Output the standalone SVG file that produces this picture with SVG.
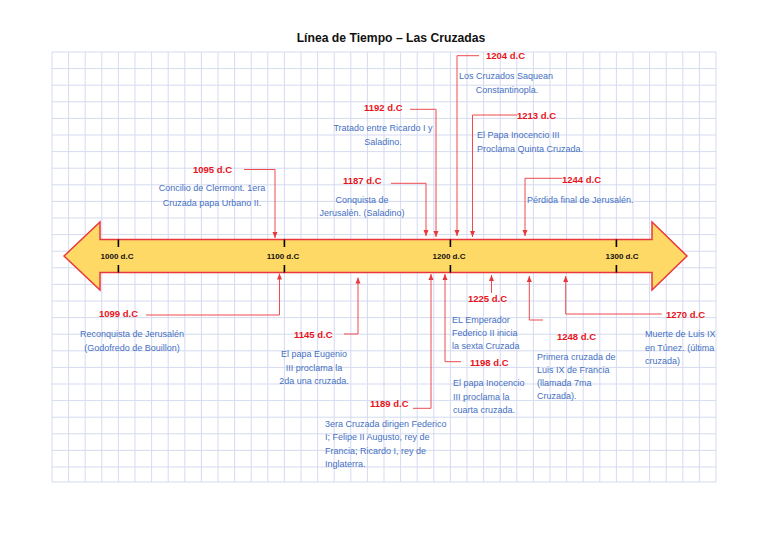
<svg xmlns="http://www.w3.org/2000/svg" width="768" height="544" viewBox="0 0 768 544">
<defs>
<marker id="ah" markerUnits="userSpaceOnUse" markerWidth="6" markerHeight="6" refX="6" refY="3" orient="auto">
<path d="M0,0.5 L6,3 L0,5.5 z" fill="#E8383D"/>
</marker>
<style>
.grid{stroke:#D5DBF0;stroke-width:1;fill:none}
.conn{stroke:#EE4A4F;stroke-width:1;fill:none;marker-end:url(#ah)}
.yr{font-family:"Liberation Sans",Arial,sans-serif;font-weight:bold;font-size:9.5px;fill:#E8141B}
.ax{font-family:"Liberation Sans",Arial,sans-serif;font-weight:bold;font-size:8px;fill:#111;text-anchor:middle}
.tx{font-family:"Liberation Sans",Arial,sans-serif;font-size:9px;fill:#4670C2}
.c{text-anchor:middle}
.tick{stroke:#000;stroke-width:1.6}
</style>
</defs>
<rect width="768" height="544" fill="#fff"/>
<g id="grid">
<path class="grid" d="M52,52V482 M68.6,52V482 M85.2,52V482 M101.8,52V482 M118.4,52V482 M135,52V482 M151.6,52V482 M168.2,52V482 M184.8,52V482 M201.4,52V482 M218,52V482 M234.6,52V482 M251.2,52V482 M267.8,52V482 M284.4,52V482 M301,52V482 M317.6,52V482 M334.2,52V482 M350.8,52V482 M367.4,52V482 M384,52V482 M400.6,52V482 M417.2,52V482 M433.8,52V482 M450.4,52V482 M467,52V482 M483.6,52V482 M500.2,52V482 M516.8,52V482 M533.4,52V482 M550,52V482 M566.6,52V482 M583.2,52V482 M599.8,52V482 M616.4,52V482 M633,52V482 M649.6,52V482 M666.2,52V482 M682.8,52V482 M699.4,52V482 M716,52V482
M52,52H716 M52,68.6H716 M52,85.2H716 M52,101.8H716 M52,118.4H716 M52,135H716 M52,151.6H716 M52,168.2H716 M52,184.8H716 M52,201.4H716 M52,218H716 M52,234.6H716 M52,251.2H716 M52,267.8H716 M52,284.4H716 M52,301H716 M52,317.6H716 M52,334.2H716 M52,350.8H716 M52,367.4H716 M52,384H716 M52,400.6H716 M52,417.2H716 M52,433.8H716 M52,450.4H716 M52,467H716 M52,482H716"/>
</g>
<text x="391" y="42" font-family="Liberation Sans,Arial,sans-serif" font-weight="bold" font-size="12.2" text-anchor="middle" fill="#111">Línea de Tiempo – Las Cruzadas</text>
<g id="timeline">
<polygon points="64,256 100,222 100,239.5 652,239.5 652,222 687,256 652,290 652,272.5 100,272.5 100,290" fill="#FFD966" stroke="#E8383D" stroke-width="1.5" stroke-linejoin="miter"/>
<path class="tick" d="M118.4,239.5V247 M118.4,265V272.5 M284.4,239.5V247 M284.4,265V272.5 M450.4,239.5V247 M450.4,265V272.5 M616.4,239.5V247 M616.4,265V272.5"/>
<text class="ax" x="117" y="258.5">1000 d.C</text>
<text class="ax" x="283" y="258.5">1100 d.C</text>
<text class="ax" x="449" y="258.5">1200 d.C</text>
<text class="ax" x="622" y="258.5">1300 d.C</text>
</g>
<g id="connectors">
<path class="conn" d="M244,169.5H275V238"/>
<path class="conn" d="M146,315H279.5V273.5"/>
<path class="conn" d="M344,334H358V277.5"/>
<path class="conn" d="M391,183.3H426V236"/>
<path class="conn" d="M410,109.3H436V237"/>
<path class="conn" d="M479,55.7H457V236"/>
<path class="conn" d="M517,115H472.5V237"/>
<path class="conn" d="M562,178.3H525V236"/>
<path class="conn" d="M413,408.3H431V274"/>
<path class="conn" d="M461,361.7H445V274"/>
<path class="conn" d="M491.5,293V275"/>
<path class="conn" d="M543,320H529.3V276"/>
<path class="conn" d="M661.7,314H565.7V276"/>
</g>
<g id="e1095">
<text class="yr" x="193" y="172.5">1095 d.C</text>
<text class="tx c" x="212" y="191">Concilio de Clermont. 1era</text>
<text class="tx c" x="212" y="206">Cruzada papa Urbano II.</text>
</g>
<g id="e1099">
<text class="yr" x="99" y="316.5">1099 d.C</text>
<text class="tx c" x="132" y="337">Reconquista de Jerusalén</text>
<text class="tx c" x="132" y="351">(Godofredo de Bouillon)</text>
</g>
<g id="e1145">
<text class="yr" x="294" y="337.5">1145 d.C</text>
<text class="tx c" x="314" y="357">El papa Eugenio</text>
<text class="tx c" x="314" y="371">III proclama la</text>
<text class="tx c" x="314" y="384">2da una cruzada.</text>
</g>
<g id="e1187">
<text class="yr" x="343" y="183.5">1187 d.C</text>
<text class="tx c" x="362" y="203">Conquista de</text>
<text class="tx c" x="362" y="216">Jerusalén. (Saladino)</text>
</g>
<g id="e1192">
<text class="yr" x="364" y="110.5">1192 d.C</text>
<text class="tx c" x="383" y="131">Tratado entre Ricardo I y</text>
<text class="tx c" x="383" y="145">Saladino.</text>
</g>
<g id="e1204">
<text class="yr" x="486" y="58.5">1204 d.C</text>
<text class="tx c" x="506" y="79">Los Cruzados Saquean</text>
<text class="tx c" x="507" y="93">Constantinopla.</text>
</g>
<g id="e1213">
<text class="yr" x="517" y="118.5">1213 d.C</text>
<text class="tx" x="477" y="138">El Papa Inocencio III</text>
<text class="tx" x="477" y="152">Proclama Quinta Cruzada.</text>
</g>
<g id="e1244">
<text class="yr" x="562" y="182.5">1244 d.C</text>
<text class="tx" x="527" y="203">Pérdida final de Jerusalén.</text>
</g>
<g id="e1189">
<text class="yr" x="370" y="406.5">1189 d.C</text>
<text class="tx" x="325" y="427">3era Cruzada dirigen Federico</text>
<text class="tx" x="325" y="440">I; Felipe II Augusto, rey de</text>
<text class="tx" x="325" y="454">Francia; Ricardo I, rey de</text>
<text class="tx" x="325" y="467">Inglaterra.</text>
</g>
<g id="e1198">
<text class="yr" x="470" y="365.5">1198 d.C</text>
<text class="tx" x="453" y="386">El papa Inocencio</text>
<text class="tx" x="453" y="400">III proclama la</text>
<text class="tx" x="453" y="413">cuarta cruzada.</text>
</g>
<g id="e1225">
<text class="yr" x="468" y="301.5">1225 d.C</text>
<text class="tx" x="452" y="323">EL Emperador</text>
<text class="tx" x="452" y="336">Federico II inicia</text>
<text class="tx" x="452" y="349">la sexta Cruzada</text>
</g>
<g id="e1248">
<text class="yr" x="557" y="339.5">1248 d.C</text>
<text class="tx" x="537" y="360">Primera cruzada de</text>
<text class="tx" x="537" y="373">Luis IX de Francia</text>
<text class="tx" x="537" y="386">(llamada 7ma</text>
<text class="tx" x="537" y="399">Cruzada).</text>
</g>
<g id="e1270">
<text class="yr" x="666" y="317.5">1270 d.C</text>
<text class="tx" x="645" y="337">Muerte de Luis IX</text>
<text class="tx" x="645" y="351">en Túnez. (última</text>
<text class="tx" x="645" y="364">cruzada)</text>
</g>
</svg>
